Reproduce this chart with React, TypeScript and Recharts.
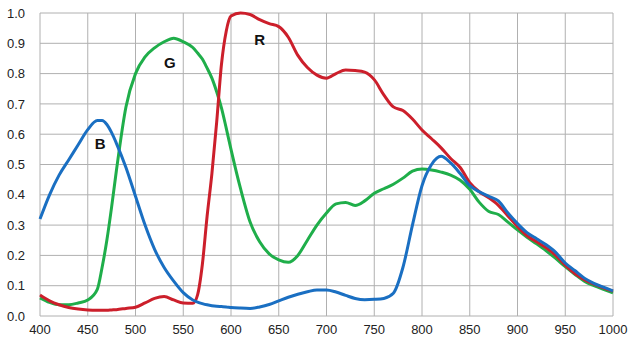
import React from "react";
import { LineChart, Line, XAxis, YAxis, CartesianGrid, ReferenceDot, Label } from "recharts";

const wavelengths = [
  400, 410, 420, 430, 440, 450, 460, 465, 470, 475, 480, 490, 500, 510, 520, 530, 540, 550, 560, 565,
  570, 575, 580, 585, 590, 595, 600, 610, 620, 630, 640, 650, 660, 670, 680, 690, 700, 710, 720, 730,
  740, 750, 760, 770, 780, 790, 800, 810, 820, 830, 840, 850, 860, 870, 880, 890, 900, 910, 920, 930,
  940, 950, 960, 970, 980, 990, 1000,
];

const blueValues = [
  0.32, 0.4, 0.465, 0.515, 0.565, 0.615, 0.645, 0.645, 0.632, 0.605, 0.57, 0.49, 0.395, 0.3, 0.22, 0.16, 0.115, 0.077, 0.053, 0.046,
  0.041, 0.037, 0.034, 0.032, 0.031, 0.03, 0.028, 0.026, 0.025, 0.03, 0.038, 0.05, 0.062, 0.072, 0.08, 0.086, 0.086, 0.079, 0.068, 0.058,
  0.054, 0.055, 0.058, 0.075, 0.16, 0.3, 0.43, 0.5, 0.527, 0.505, 0.47, 0.43, 0.41, 0.395, 0.38, 0.34, 0.305, 0.275, 0.255, 0.235,
  0.21, 0.175, 0.15, 0.125, 0.108, 0.095, 0.083,
];

const greenValues = [
  0.06, 0.045, 0.037, 0.037, 0.043, 0.053, 0.088, 0.16, 0.25, 0.36, 0.48, 0.69, 0.8, 0.855, 0.885, 0.905, 0.917, 0.905, 0.886, 0.868,
  0.848, 0.818, 0.785, 0.74, 0.687, 0.62, 0.55, 0.42, 0.31, 0.245, 0.205, 0.185, 0.177, 0.2, 0.25, 0.3, 0.34, 0.37, 0.375, 0.365,
  0.38, 0.405, 0.42, 0.435, 0.455, 0.478, 0.485, 0.482, 0.475, 0.465, 0.448, 0.418, 0.375, 0.345, 0.335, 0.31, 0.284, 0.26, 0.238, 0.215,
  0.19, 0.163, 0.138, 0.115, 0.1, 0.088, 0.076,
];

const redValues = [
  0.069, 0.05, 0.037, 0.028, 0.023, 0.02, 0.019, 0.019, 0.019, 0.02, 0.021, 0.025, 0.029, 0.043, 0.058, 0.064, 0.053, 0.043, 0.042, 0.07,
  0.17, 0.33, 0.47, 0.64, 0.83, 0.94, 0.99, 1.0, 0.995, 0.978, 0.965, 0.955, 0.92, 0.86, 0.82, 0.795, 0.785, 0.8, 0.812, 0.81,
  0.805, 0.78, 0.73, 0.69, 0.678, 0.65, 0.614, 0.585, 0.555, 0.52, 0.49, 0.44, 0.41, 0.39, 0.365, 0.33, 0.295, 0.265, 0.245, 0.225,
  0.2, 0.168, 0.14, 0.12, 0.105, 0.093, 0.082,
];

const xTicks = [400, 450, 500, 550, 600, 650, 700, 750, 800, 850, 900, 950, 1000];
const yTicks = [0, 0.1, 0.2, 0.3, 0.4, 0.5, 0.6, 0.7, 0.8, 0.9, 1.0];

const labelNames = ["R", "G", "B"];
const labelX = [630, 536, 463];
const labelY = [0.911, 0.835, 0.568];

const data = wavelengths.map((w, i) => ({
  wl: w,
  B: blueValues[i],
  G: greenValues[i],
  R: redValues[i],
}));

const font = "'Liberation Sans', Arial, sans-serif";

export default function App() {
  return (
    <div style={{ position: "absolute", left: 0, top: 0, background: "#fff" }}>
      <LineChart width={631} height={342} data={data} margin={{ top: 13, right: 18, bottom: 0, left: 0 }}>
        <CartesianGrid stroke="#b0b0b0" strokeWidth={1} horizontalValues={yTicks} verticalValues={xTicks} />
        <XAxis
          dataKey="wl"
          type="number"
          domain={[400, 1000]}
          ticks={xTicks}
          axisLine={false}
          tickLine={false}
          tickSize={0}
          tickMargin={9}
          height={26}
          interval={0}
          tick={{ fill: "#222", fontSize: 13, fontFamily: font }}
        />
        <YAxis
          type="number"
          domain={[0, 1]}
          ticks={yTicks}
          axisLine={false}
          tickLine={false}
          tickSize={0}
          tickMargin={15}
          width={40}
          interval={0}
          tickFormatter={(v: number) => v.toFixed(1)}
          tick={{ fill: "#222", fontSize: 13, fontFamily: font }}
        />
        <Line type="monotone" dataKey="G" stroke="#1fae4a" strokeWidth={3} dot={false} isAnimationActive={false} />
        <Line type="monotone" dataKey="R" stroke="#cc1f2b" strokeWidth={3} dot={false} isAnimationActive={false} />
        <Line type="monotone" dataKey="B" stroke="#1a6fc2" strokeWidth={3} dot={false} isAnimationActive={false} />
        {labelNames.map((n, i) => (
          <ReferenceDot key={n} x={labelX[i]} y={labelY[i]} r={0} fill="none" stroke="none">
            <Label value={n} position="center" fill="#111" fontSize={15} fontWeight="bold" fontFamily={font} />
          </ReferenceDot>
        ))}
      </LineChart>
    </div>
  );
}
